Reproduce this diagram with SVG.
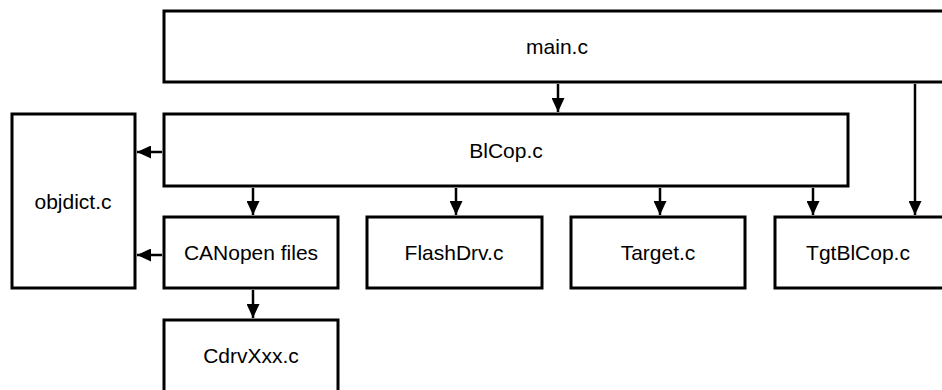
<svg xmlns="http://www.w3.org/2000/svg" width="942" height="390" viewBox="0 0 942 390">
  <style>
    .box { fill: #fff; stroke: #000; stroke-width: 3; }
    .lbl { font-family: "Liberation Sans", Arial, sans-serif; font-size: 21px; fill: #000; text-anchor: middle; }
    .wire { stroke: #000; stroke-width: 2.5; fill: none; marker-end: url(#head); }
  </style>
  <defs>
    <marker id="head" markerUnits="userSpaceOnUse" markerWidth="14" markerHeight="13" refX="14" refY="6.5" orient="auto">
      <path d="M0,0 L14,6.5 L0,13 z" fill="#000"/>
    </marker>
  </defs>
  <rect width="942" height="390" fill="#fff"/>

  <g id="main">
    <rect class="box" x="164" y="11" width="790" height="71"/>
    <text class="lbl" x="557" y="54">main.c</text>
  </g>
  <g id="blcop">
    <rect class="box" x="164" y="114" width="684" height="72"/>
    <text class="lbl" x="506" y="158">BlCop.c</text>
  </g>
  <g id="objdict">
    <rect class="box" x="12" y="114" width="123" height="174"/>
    <text class="lbl" x="73" y="209">objdict.c</text>
  </g>
  <g id="canopen">
    <rect class="box" x="164" y="217" width="174" height="71"/>
    <text class="lbl" x="251" y="260">CANopen files</text>
  </g>
  <g id="flashdrv">
    <rect class="box" x="367" y="217" width="175" height="71"/>
    <text class="lbl" x="454" y="260">FlashDrv.c</text>
  </g>
  <g id="target">
    <rect class="box" x="571" y="217" width="174" height="71"/>
    <text class="lbl" x="658" y="260">Target.c</text>
  </g>
  <g id="tgtblcop">
    <rect class="box" x="775" y="217" width="175" height="71"/>
    <text class="lbl" x="858" y="260">TgtBlCop.c</text>
  </g>
  <g id="cdrvxxx">
    <rect class="box" x="164" y="320" width="174" height="80"/>
    <text class="lbl" x="251" y="363">CdrvXxx.c</text>
  </g>

  <g id="connectors">
    <line class="wire" x1="558" y1="84" x2="558" y2="112"/>
    <line class="wire" x1="915" y1="84" x2="915" y2="215"/>
    <line class="wire" x1="253" y1="188" x2="253" y2="215"/>
    <line class="wire" x1="456" y1="188" x2="456" y2="215"/>
    <line class="wire" x1="660" y1="188" x2="660" y2="215"/>
    <line class="wire" x1="813" y1="188" x2="813" y2="215"/>
    <line class="wire" x1="162" y1="152" x2="137" y2="152"/>
    <line class="wire" x1="162" y1="255" x2="137" y2="255"/>
    <line class="wire" x1="253" y1="290" x2="253" y2="318"/>
  </g>
</svg>
